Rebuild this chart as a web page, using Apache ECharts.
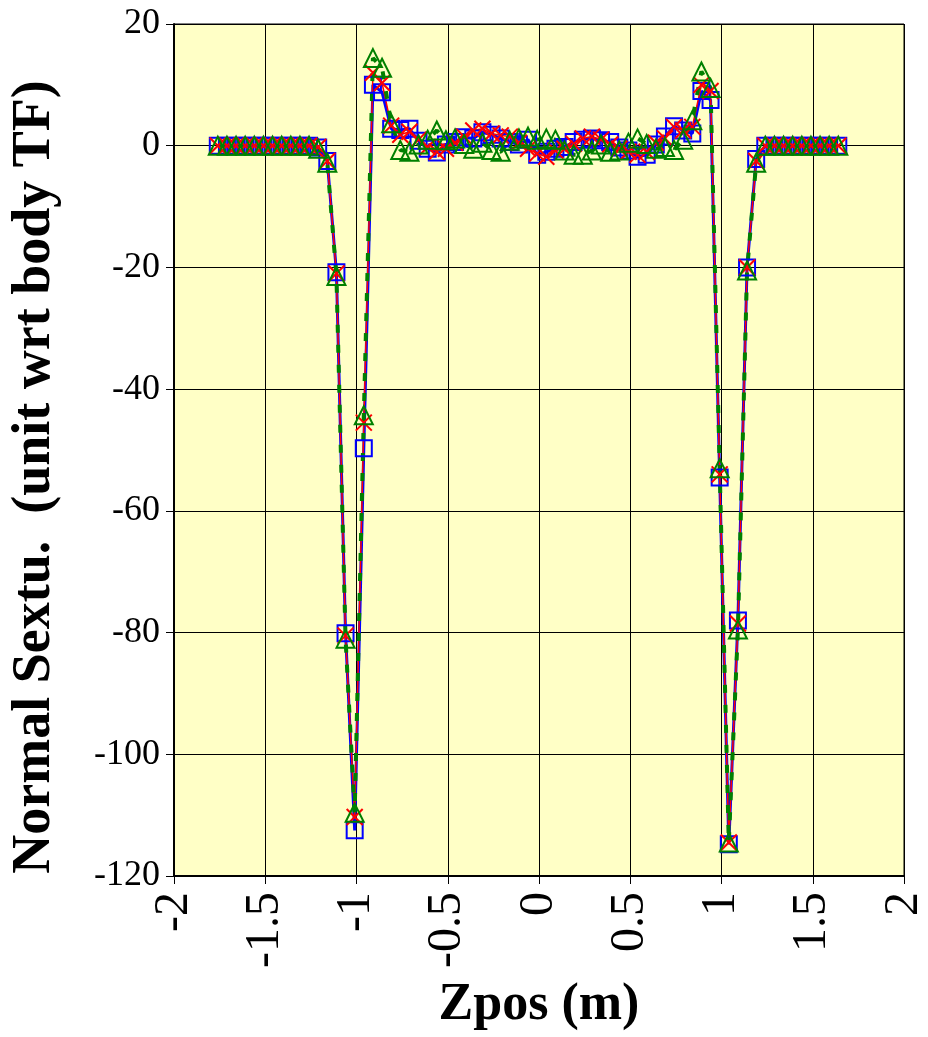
<!DOCTYPE html>
<html>
<head>
<meta charset="utf-8">
<script src="https://cdn.jsdelivr.net/npm/echarts@6/dist/echarts.min.js"></script>
<style>
  html, body { margin: 0; padding: 0; background: #fff; }
  #chart { width: 928px; height: 1037px; }
</style>
</head>
<body>
<div id="chart"></div>
<script>
// z positions (m)
const zpos = [
  -1.76, -1.71, -1.66, -1.61, -1.56, -1.51, -1.46, -1.41, -1.36, -1.31, -1.26, -1.21,
  -1.16, -1.11, -1.06, -1.01, -0.96, -0.91, -0.86, -0.81,
  -0.76, -0.71, -0.66, -0.61, -0.56, -0.51, -0.46, -0.41, -0.36, -0.31, -0.26,
  -0.21, -0.16, -0.11, -0.06, -0.01, 0.04, 0.09, 0.14, 0.19, 0.24, 0.29,
  0.34, 0.39, 0.44, 0.49, 0.54, 0.59, 0.64, 0.69, 0.74, 0.79, 0.84,
  0.89, 0.94, 0.99, 1.04, 1.09, 1.14, 1.19,
  1.24, 1.29, 1.34, 1.39, 1.44, 1.49, 1.54, 1.59, 1.64
]

// blue squares
const sextA = [
  0, 0, 0, 0, 0, 0, 0, 0, 0, 0, 0, -0.3,
  -2.5, -20.8, -80.1, -112.5, -49.7, 10, 8.8, 2.8,
  2.6, 2.8, 0.8, -0.5, -1.1, 0.2, 0.6, 1.4, 1.2, 2.2, 1.8,
  1.2, 0.6, 0.2, 1.0, -1.5, -1.0, -0.5, -0.2, 0.6, 1.0, 1.2,
  0.9, 0.6, -0.3, -0.8, -1.8, -1.5, 0.2, 1.5, 3.2, 2.5, 2.0,
  9.0, 7.5, -54.5, -114.8, -78.0, -20.0, -2.2,
  0, 0, 0, 0, 0, 0, 0, 0, 0
]

// red crosses
const sextB = [
  0, 0, 0, 0, 0, 0, 0, 0, 0, 0, 0, -0.2,
  -2.5, -21, -80.5, -110.3, -45.5, 12, 10.3, 3.3,
  1.8, 2.3, 1.0, -0.2, -1.0, -0.5, 0.5, 1.5, 2.5, 2.8, 2.0,
  1.7, 1.5, 0.5, -0.5, -1.3, -1.8, -0.8, -0.5, 0.3, 1.2, 1.5,
  1.0, 0.2, -0.5, -1.0, -1.5, -1.0, 0.5, 1.2, 3.1, 2.5, 3.1,
  10.0, 9.0, -54, -114.5, -78.5, -20, -2.5,
  0, 0, 0, 0, 0, 0, 0, 0, 0
]

// green triangles
const sextC = [
  0, 0, 0, 0, 0, 0, 0, 0, 0, 0, 0, -0.5,
  -2.8, -21.4, -81, -109.6, -44.3, 14.4, 12.8, 3.7,
  -0.7, -1.0, 0.2, 1.0, 2.5, 0.9, 1.2, 0.3, -0.5, 0.5, -0.7,
  -1.0, 0.8, 1.2, 1.5, 1.0, 1.2, 1.0, -0.8, -1.5, -1.5, -0.8,
  0.2, -1.0, -0.8, 0.5, 1.2, 0.3, -0.5, -0.2, -0.7, 1.0, 4.2,
  12.2, 9.5, -53, -114.5, -79.5, -20.5, -2.8,
  0, 0, 0, 0, 0, 0, 0, 0, 0
]

const pair = ys => zpos.map((z, i) => [z, ys[i]])

const chart = echarts.init(document.getElementById('chart'))

const font = '"Liberation Serif", "Times New Roman", serif'

chart.setOption({
  animation: false,
  backgroundColor: '#fff',
  grid: {
    left: 172,
    right: 18,
    top: 24,
    bottom: 161,
    show: true,
    backgroundColor: '#FFFFC6',
    borderColor: '#000',
    borderWidth: 1
  },
  xAxis: {
    type: 'value',
    min: -2,
    max: 2,
    interval: 0.5,
    name: 'Zpos (m)',
    nameLocation: 'middle',
    nameGap: 104,
    nameTextStyle: { fontFamily: font, fontSize: 52, fontWeight: 'bold', color: '#000' },
    axisLine: { show: true, onZero: false, lineStyle: { color: '#000', width: 2 } },
    axisTick: { show: true, inside: false, length: 8, lineStyle: { color: '#000' } },
    axisLabel: { rotate: 90, margin: 16, fontFamily: font, fontSize: 48, color: '#000' },
    splitLine: { show: true, lineStyle: { color: '#000', width: 1 } }
  },
  yAxis: {
    type: 'value',
    min: -120,
    max: 20,
    interval: 20,
    name: 'Normal Sextu.  (unit wrt body TF)',
    nameLocation: 'middle',
    nameGap: 112,
    nameTextStyle: { fontFamily: font, fontSize: 54, fontWeight: 'bold', color: '#000', padding: [0, 54, 0, 0] },
    axisLine: { show: true, onZero: false, lineStyle: { color: '#000', width: 2 } },
    axisTick: { show: true, inside: false, length: 8, lineStyle: { color: '#000' } },
    axisLabel: { margin: 14, fontFamily: font, fontSize: 36, color: '#000' },
    splitLine: { show: true, lineStyle: { color: '#000', width: 1 } }
  },
  series: [
    {
      type: 'line',
      data: pair(sextA),
      symbol: 'rect',
      symbolSize: 16,
      lineStyle: { color: '#0000FF', width: 3 },
      itemStyle: { color: 'rgba(0,0,0,0)', borderColor: '#0000FF', borderWidth: 2 }
    },
    {
      type: 'line',
      data: pair(sextB),
      symbol: 'path://M0,0L10,10M10,0L0,10',
      symbolSize: 16,
      lineStyle: { color: '#FF0000', width: 1.5 },
      itemStyle: { color: 'none', borderColor: '#FF0000', borderWidth: 2 }
    },
    {
      type: 'line',
      data: pair(sextC),
      symbol: 'triangle',
      symbolSize: 18,
      lineStyle: { color: '#008000', width: 4, type: [8, 12] },
      itemStyle: { color: 'rgba(0,0,0,0)', borderColor: '#008000', borderWidth: 2 }
    }
  ]
})
</script>
</body>
</html>
